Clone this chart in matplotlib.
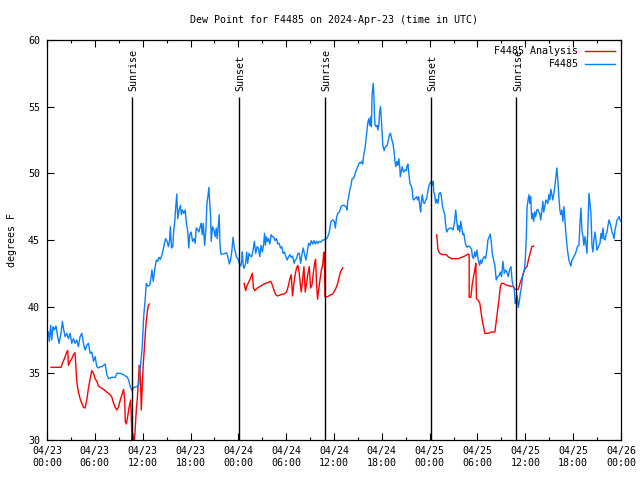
import numpy as np
import matplotlib
matplotlib.use("Agg")
import matplotlib.pyplot as plt

plt.rcParams['font.family'] = ['DejaVu Sans Mono']

# ---------------- data (x in hours since 2024-04-23 00:00 UTC, y in deg F) -------------
obs_h1 = [0.17,0.29,0.46,0.59,0.76,0.92,1.13,1.34,1.51,1.76,1.93,2.10,2.27,2.48,2.69,2.90,3.11,3.32,3.52,3.73,
          3.94,4.15,4.36,4.57,4.78,4.99,5.20,5.41,5.62,5.83,6.04,6.25,6.46,6.67,6.88,7.09,7.30,7.51,7.72,8.14,
          8.56,8.77,9.19,9.61,9.82,10.03,10.24,10.45,10.66,10.87,11.29,11.50,11.71,11.92,12.13]
obs_v1 = [38.1,37.4,38.6,37.5,38.5,38.25,38.55,37.75,37.25,38.0,38.9,38.25,37.75,38.0,37.6,38.0,37.25,37.6,37.25,37.5,
          37.0,37.75,38.0,37.25,36.75,37.1,37.25,36.5,36.6,35.9,36.25,35.5,35.4,35.5,35.5,35.6,35.7,34.9,34.6,34.7,
          34.7,35.0,35.0,34.9,34.8,34.75,34.5,34.0,33.7,33.95,34.0,34.1,35.5,36.75,39.25]

obs_h2 = [12.34,12.46,12.62,12.88,13.03,13.16,13.33,13.50,13.72,13.88,14.05,14.22,14.43,14.56,14.73,14.89,15.06,15.23,15.36,15.48,
          15.61,15.78,15.90,16.03,16.15,16.28,16.40,16.57,16.74,16.86,16.99,17.16,17.33,17.49,17.66,17.78,17.91,18.08,18.25,18.42,
          18.59,18.71,18.88,19.05,19.22,19.35,19.47,19.60,19.77,19.94,20.06,20.18,20.31,20.39,20.52,20.60,20.77,20.94,21.10,21.23,
          21.35,21.48,21.60,21.69,21.81,22.19,22.53,22.70,22.87,23.03,23.20,23.33,23.45,23.62,23.79]
obs_v2 = [40.75,41.75,41.55,41.6,42.1,42.75,41.9,42.75,43.5,43.4,43.7,43.55,43.9,44.25,44.75,45.1,44.9,44.5,44.9,46.0,
          44.4,44.5,45.75,46.4,47.5,48.45,46.6,47.25,47.6,46.9,47.25,47.0,47.25,46.25,45.6,44.4,45.4,45.6,44.9,45.1,
          44.75,45.9,45.8,45.6,46.0,46.25,45.4,46.25,44.6,45.9,47.75,48.25,48.95,48.0,46.75,44.9,46.0,45.75,45.25,45.9,
          45.1,46.0,46.9,44.75,43.95,43.95,44.05,43.7,43.2,43.5,44.25,45.2,44.6,44.1,43.7]

obs_h3 = [23.95,24.12,24.30,24.42,24.50,24.59,24.67,24.75,24.92,25.05,25.17,25.34,25.51,25.68,25.85,26.01,26.18,26.35,26.52,26.69,
          26.85,27.02,27.19,27.28,27.40,27.52,27.65,27.78,27.95,28.12,28.28,28.45,28.62,28.78,28.95,29.12,29.29,29.45,29.62,29.79,
          29.96,30.13,30.30,30.47,30.63,30.80,31.00,31.14,31.30,31.47,31.64,31.81,31.97,32.14,32.31,32.48,32.65,32.81,32.98,33.15,
          33.32,33.48,33.65,33.82,33.99,34.15,34.36,34.58,34.79]
obs_v3 = [43.6,43.25,43.05,43.4,44.1,43.25,42.9,42.9,43.25,44.1,43.25,44.0,43.8,43.75,44.25,44.9,44.0,44.5,44.4,43.75,
          44.6,44.1,44.75,45.5,44.6,45.25,44.9,45.1,44.7,45.4,45.25,45.2,44.95,45.1,44.7,44.75,44.4,44.5,44.0,44.1,
          43.75,43.5,43.75,43.9,43.7,43.8,43.25,43.5,43.6,44.0,44.0,43.25,43.9,44.4,43.9,43.5,44.1,44.75,44.6,44.95,
          44.7,44.95,44.7,44.9,44.75,44.9,44.85,45.0,45.0]

obs_h4 = [35.0,35.2,35.41,35.62,35.83,36.04,36.17,36.3,36.46,36.67,36.88,37.09,37.3,37.51,37.64,37.72,37.85,37.97,38.14,38.27,
          38.39,38.56,38.69,38.81,38.98,39.19,39.32,39.48,39.61,39.73,39.9,40.02,40.11,40.23,40.36,40.48,40.61,40.69,40.78,40.92,
          41.0,41.08,41.16,41.29,41.41,41.5,41.62,41.71,41.83,41.92,42.04,42.12,42.29,42.38,42.55,42.67,42.82,42.96,43.09,43.22,
          43.39,43.51,43.64,43.76,43.89,44.01,44.14,44.26,44.31,44.43,44.56,44.73,44.9,45.06,45.15,45.27,45.4,45.53,45.78,45.9,
          46.03,46.15,46.37,46.49,46.62,46.79,46.87,46.96,47.08,47.2,47.37,47.5,47.63,47.8,47.92,48.04,48.21,48.34,48.46]
obs_v4 = [45.1,45.2,45.6,46.4,46.5,46.4,45.9,46.6,47.0,47.1,47.5,47.6,47.6,47.5,47.25,47.9,48.25,48.75,49.1,49.6,
          49.6,49.75,50.1,50.25,50.5,50.8,50.75,50.9,50.7,51.4,51.9,52.6,53.1,53.75,54.1,53.6,54.25,53.5,55.9,56.75,
          55.9,54.25,53.6,53.5,53.6,53.25,53.6,54.5,55.0,54.25,53.0,52.1,51.7,51.9,52.05,52.1,52.5,52.9,53.0,52.6,
          52.25,51.75,50.9,50.5,50.9,50.6,51.1,50.4,49.75,50.1,50.5,50.1,50.25,50.2,50.5,50.7,49.9,49.25,48.9,48.1,
          48.0,48.1,48.25,48.0,48.25,47.4,47.1,47.9,48.4,47.8,47.75,48.0,48.1,48.75,49.1,49.25,49.4,49.1,49.4]

obs_h5 = [48.5,48.63,48.76,48.88,49.05,49.18,49.35,49.47,49.6,49.72,49.89,50.01,50.14,50.31,50.52,50.73,50.94,51.15,51.27,51.4,
          51.53,51.65,51.78,51.9,52.03,52.16,52.28,52.41,52.54,52.7,52.83,53.04,53.25,53.37,53.5,53.66,53.79,53.92,54.09,54.26,
          54.38,54.51,54.68,54.85,55.01,55.18,55.31,55.47,55.6,55.72,55.85,56.02,56.18,56.35,56.52,56.69,56.86,57.02,57.19,57.36,
          57.53,57.69,57.86,58.03,58.2,58.33,58.45,58.6,58.73,58.86,58.99,59.12,59.25,59.37,59.5,59.63,59.75,59.88,60.0]
obs_v5 = [48.6,48.4,47.75,48.05,47.75,48.5,48.55,48.25,47.55,47.25,46.9,46.1,45.6,45.8,45.9,45.9,45.75,46.5,47.25,46.4,
          45.75,46.1,45.6,46.4,45.9,45.4,45.5,45.0,44.6,44.45,44.55,44.5,44.3,43.75,43.6,44.1,43.75,44.25,43.5,43.1,
          43.5,43.25,43.6,43.75,43.6,44.25,45.0,45.25,45.45,44.9,44.0,43.5,43.1,42.0,42.25,42.3,42.6,42.25,43.4,42.5,
          42.75,42.6,42.25,42.8,43.0,42.0,41.6,41.4,40.25,40.6,40.8,39.95,40.4,41.0,41.4,42.1,42.5,42.75,43.6]

obs_h6 = [60.13,60.21,60.34,60.46,60.55,60.67,60.8,60.92,61.05,61.17,61.3,61.43,61.56,61.68,61.81,61.93,62.06,62.19,62.31,62.44,
          62.57,62.69,62.82,62.94,63.07,63.2,63.32,63.45,63.57,63.7,63.83,63.95,64.08,64.21,64.33,64.46,64.58,64.71,64.84,64.96,
          65.09,65.22,65.34,65.47,65.59,65.72,65.84,65.97,66.1,66.22,66.35,66.48,66.6,66.73,66.85,66.98,67.1,67.23,67.35,67.48,
          67.6,67.73,67.85,67.98,68.11,68.23,68.36,68.48,68.61,68.74,68.86,68.99,69.11,69.24,69.36,69.49,69.62,69.74,69.87,69.99,
          70.12,70.25,70.37,70.5,70.62,70.75,70.87,71.0,71.13,71.25,71.38,71.5,71.63,71.76,71.88,72.0]
obs_v6 = [45.4,47.4,48.0,48.4,47.75,48.25,46.6,47.0,46.4,47.1,46.75,47.25,47.3,47.1,47.0,46.5,47.1,47.9,47.1,47.5,
          48.0,47.9,47.75,48.4,48.0,48.8,48.4,48.0,48.5,49.0,49.75,50.4,49.5,48.25,47.25,46.9,47.25,46.4,47.5,46.5,
          45.5,44.6,44.0,43.5,43.25,43.05,43.5,43.6,43.75,43.9,44.1,44.4,44.55,44.6,46.25,47.4,45.75,45.25,44.6,45.25,
          44.75,44.0,46.0,48.5,47.75,47.0,44.6,44.1,45.0,45.6,45.0,44.25,44.4,44.6,44.75,45.5,45.1,45.9,45.1,45.0,
          45.4,45.6,46.1,46.5,46.25,46.0,45.6,45.4,45.1,45.75,46.1,46.5,46.6,46.75,46.5,46.4]

ana_h1 = [0.5,1.76,1.93,2.18,2.48,2.6,2.69,2.9,3.11,3.32,3.52,3.73,3.94,4.15,4.36,4.57,4.78,4.99,5.2,5.41,
          5.62,5.83,6.04,6.25,6.46,6.67,7.09,7.51,7.93,8.14,8.35,8.56,8.77,8.98,9.19,9.4,9.61,9.74,9.82,9.95,
          10.12,10.28,10.49,10.57,10.66,10.78,10.91,11.08,11.2,11.33,11.45,11.58,11.66,11.75,11.83,11.96,12.08,12.2,12.33,12.46,
          12.58,12.71,12.84]
ana_v1 = [35.45,35.45,35.75,36.1,36.6,36.7,35.6,35.9,36.1,36.4,36.55,34.4,33.6,33.1,32.75,32.45,32.4,33.0,33.9,34.6,
          35.2,35.0,34.6,34.4,34.05,33.95,33.8,33.6,33.4,33.2,32.75,32.45,32.25,32.5,33.0,33.4,33.8,33.0,31.4,31.2,
          31.75,32.4,33.0,31.75,30.0,30.5,29.5,31.0,32.25,33.1,34.25,35.6,35.1,34.0,32.25,34.25,35.75,36.75,38.0,39.0,
          39.6,40.1,40.2]

ana_h2 = [24.72,24.92,25.1,25.43,25.76,25.89,26.05,26.39,26.81,27.23,27.65,28.07,28.28,28.49,28.7,28.91,29.33,29.75,30.04,30.25,
          30.47,30.63,30.8,30.97,31.13,31.3,31.47,31.64,31.76,31.89,32.06,32.23,32.39,32.56,32.73,32.9,33.06,33.23,33.4,33.57,
          33.69,33.82,33.94,34.07,34.24,34.41,34.58,34.7,34.78,34.87,35.2,35.62,35.85,36.08,36.25,36.47,36.8,37.1]
ana_v2 = [41.75,41.2,41.6,42.0,42.5,41.4,41.2,41.4,41.55,41.7,41.8,41.9,41.6,41.2,40.9,40.8,40.9,40.95,41.1,41.5,
          42.1,42.4,40.8,41.75,42.4,42.9,43.1,42.5,41.75,41.1,42.0,43.0,41.1,41.75,42.5,43.0,41.4,41.6,42.5,43.25,
          43.55,41.6,40.55,41.25,42.0,42.75,43.1,44.0,44.1,40.75,40.75,40.9,40.95,41.2,41.4,41.75,42.6,42.9]

ana_h3 = [48.88,48.96,49.05,49.26,49.68,50.1,50.31,50.73,51.15,51.57,51.99,52.41,52.83,52.95,52.96,53.16,53.33,53.5,53.66,53.79,
          53.87,54.08,54.29,54.41,54.59,54.76,54.92,55.34,55.76,56.18,56.35,56.52,56.69,56.86,57.02,57.23,57.65,58.07,58.49,58.7,
          59.12,59.33,59.54,59.75,59.88,60.04,60.21,60.38,60.55,60.72,60.8,61.05]
ana_v3 = [45.4,44.9,44.25,44.0,43.9,43.9,43.75,43.6,43.6,43.6,43.7,43.8,43.95,43.9,40.7,40.7,41.6,42.25,42.75,43.25,
          40.6,40.5,40.25,39.75,39.0,38.5,38.0,38.0,38.1,38.1,38.9,39.75,40.5,41.5,41.75,41.75,41.6,41.55,41.5,41.3,
          41.3,41.75,42.1,42.5,42.75,42.9,43.0,43.5,43.9,44.25,44.5,44.55]

sun_hours = [10.6, 24.1, 34.85, 48.12, 58.87]
sun_labels = ["Sunrise", "Sunset", "Sunrise", "Sunset", "Sunrise"]

xtick_hours = list(range(0, 73, 6))
xtick_labels = ["04/23\n00:00", "04/23\n06:00", "04/23\n12:00", "04/23\n18:00",
                "04/24\n00:00", "04/24\n06:00", "04/24\n12:00", "04/24\n18:00",
                "04/25\n00:00", "04/25\n06:00", "04/25\n12:00", "04/25\n18:00",
                "04/26\n00:00"]
ytick_vals = [30, 35, 40, 45, 50, 55, 60]

title = "Dew Point for F4485 on 2024-Apr-23 (time in UTC)"

# ---------------- build series ----------------
obs_h = np.concatenate([obs_h1, obs_h2, obs_h3, obs_h4, obs_h5, obs_h6])
obs_v = np.concatenate([obs_v1, obs_v2, obs_v3, obs_v4, obs_v5, obs_v6])
ana_h = np.concatenate([ana_h1, [np.nan], ana_h2, [np.nan], ana_h3])
ana_v = np.concatenate([ana_v1, [np.nan], ana_v2, [np.nan], ana_v3])

FS = 7.2
RED = "#ff0000"
BLUE = "#0a80ff"

fig = plt.figure(figsize=(6.4, 4.8), dpi=100)
ax = fig.add_axes([47/640, 40/480, 574/640, 400/480])

ax.plot(ana_h, ana_v, color=RED, lw=1.0, label="F4485 Analysis")
ax.plot(obs_h, obs_v, color=BLUE, lw=1.0, label="F4485")

ax.vlines(sun_hours, 30, 55.7, color="black", lw=1.0)
for h, lab in zip(sun_hours, sun_labels):
    ax.text(h + 0.2, 56.2, lab, rotation=90, ha="center", va="bottom", fontsize=FS)

ax.set_xlim(0, 72)
ax.set_ylim(30, 60)
ax.set_xticks(xtick_hours)
ax.set_xticklabels(xtick_labels, fontsize=FS, linespacing=1.3)
ax.set_xticks(np.arange(0, 73, 3), minor=True)
ax.set_yticks(ytick_vals)
ax.set_yticklabels([str(v) for v in ytick_vals], fontsize=FS)
ax.tick_params(which="both", direction="in", top=True, right=True, width=0.8)
ax.tick_params(which="major", length=5, pad=4)
ax.tick_params(which="minor", length=2.5)
ax.tick_params(axis="y", pad=5)
for s in ax.spines.values():
    s.set_linewidth(0.9)

ax.set_ylabel("degrees F", fontsize=FS, labelpad=8)
fig.text(334/640, 1 - 20/480, title, ha="center", va="center", fontsize=FS)

ax.legend(loc="upper right", markerfirst=False, frameon=False, fontsize=FS,
          handlelength=3.0, handletextpad=0.6, labelspacing=0.3, borderaxespad=0.25)

fig.savefig("out.png", dpi=100)
